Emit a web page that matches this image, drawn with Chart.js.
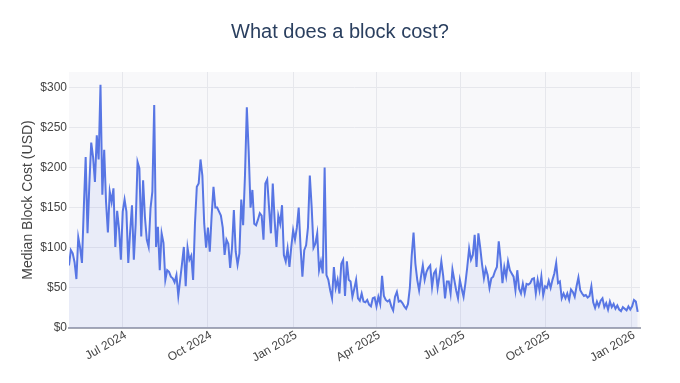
<!DOCTYPE html>
<html>
<head>
<meta charset="utf-8">
<title>What does a block cost?</title>
<script src="https://cdn.jsdelivr.net/npm/chart.js@4.4.1/dist/chart.umd.min.js"></script>
<style>
  html, body { margin: 0; padding: 0; background: #fff; }
  #wrap { width: 680px; height: 383px; position: relative; }
</style>
</head>
<body>
<div id="wrap"><canvas id="chart" width="680" height="383"></canvas></div>
<script>
/* Median block cost, one reading every 2 days. */

const START_DATE = "2024-05-04";
const STEP_DAYS = 2;

// USD, starting at START_DATE, every STEP_DAYS
const blockCost = [
  78, 97, 93, 82, 61, 113, 100, 81, 150, 213,
  118, 180, 231, 213, 182, 240, 210, 303, 166, 222,
  157, 119, 170, 157, 174, 101, 146, 124, 85, 145,
  160, 145, 81, 120, 153, 85, 130, 207, 199, 114,
  184, 138, 110, 101, 149, 170, 278, 101, 126, 72,
  118, 106, 60,
  72, 70, 64, 62, 57, 66, 40, 60, 80, 101,
  52, 100, 85, 90, 60, 130, 176, 180, 210, 190,
  130, 100, 125, 95, 140, 176, 150, 150, 145, 140,
  125, 91, 110, 105, 75, 100, 147, 95, 79, 93,
  160, 128, 190, 275, 220, 150, 172, 130, 128, 135,
  143, 140, 110, 180, 185, 150, 118, 180, 135, 101,
  140, 130, 153, 91, 83, 99, 76, 101, 122, 110,
  125, 150, 101, 64, 97, 103, 125, 190, 151, 100,
  105, 118, 72, 83, 68, 200, 66, 60, 47, 37,
  76, 50, 60, 43, 80, 85, 40, 83, 60, 58,
  39,
  49, 60, 37, 34, 43, 33, 32, 35, 29, 27,
  37, 38, 27, 39, 30, 65, 40, 35, 33, 35,
  27, 22, 39, 45, 33, 34, 31, 27, 24, 30,
  50, 90, 119, 80, 60, 47, 64, 78, 60, 70,
  75, 78, 51, 68, 72, 50, 65, 83, 65, 37,
  58, 58,
  43, 73, 60, 47, 37, 60, 49, 39, 56, 76,
  99, 85, 91, 116, 76, 118, 100, 79, 62, 74,
  66, 50, 62, 64, 71, 76, 108, 85, 56, 76,
  64, 83, 72, 68, 64, 47, 72, 49, 43, 55,
  43, 55, 54, 56, 61, 62, 43, 60, 47, 64,
  41,
  52, 50, 59, 50, 60, 68, 81, 56, 58, 37,
  43, 37, 43, 35, 48, 45, 39, 52, 63, 47,
  43, 40, 41, 38, 40, 52, 32, 25, 33, 27,
  34, 37, 26, 31, 23, 33, 26, 30, 24, 28,
  23, 21, 26, 24, 22, 27, 23, 27, 35, 33,
  20,
];

const xTickDates = ["2024-07-01", "2024-10-01", "2025-01-01", "2025-04-01", "2025-07-01", "2025-10-01", "2026-01-01"];
const xTickLabels = ["Jul 2024", "Oct 2024", "Jan 2025", "Apr 2025", "Jul 2025", "Oct 2025", "Jan 2026"];
const yTicks = [0, 50, 100, 150, 200, 250, 300];
const X_END_DATE = "2026-01-10";
const Y_MAX = 319;

const FONT = '"Liberation Sans", Arial, sans-serif';
const TITLE_COLOR = "#2a3f5f";
const TEXT = "#444";
const GRID = "#e6e7ec";

// ---------- helpers ----------
const dayOf = (iso) => (Date.parse(iso) - Date.parse(START_DATE)) / 86400000;
const points = blockCost.map((v, i) => ({ x: i * STEP_DAYS, y: v }));
const tickDays = xTickDates.map(dayOf);

const plotBg = {
  id: "plotBg",
  beforeDraw(chart) {
    const { ctx, chartArea: a } = chart;
    ctx.save();
    ctx.fillStyle = "#f8f8fa";
    ctx.fillRect(a.left, a.top, a.right - a.left, a.bottom - a.top);
    ctx.restore();
  },
};

// centred over the whole canvas, like the original
const pageTitle = {
  id: "pageTitle",
  afterDraw(chart) {
    const ctx = chart.ctx;
    ctx.save();
    ctx.font = "20px " + FONT;
    ctx.fillStyle = TITLE_COLOR;
    ctx.textAlign = "center";
    ctx.textBaseline = "middle";
    ctx.fillText("What does a block cost?", chart.width / 2, 32);
    ctx.restore();
  },
};

new Chart(document.getElementById("chart"), {
  type: "line",
  data: {
    datasets: [{
      data: points,
      borderColor: "#5876e4",
      borderWidth: 2,
      backgroundColor: "rgba(65,105,225,0.08)",
      fill: "origin",
      pointRadius: 0,
      tension: 0,
    }],
  },
  options: {
    responsive: false,
    animation: false,
    layout: { padding: { top: 72, right: 40, bottom: 0, left: 0 } },
    plugins: {
      legend: { display: false },
      tooltip: { enabled: false },
    },
    scales: {
      x: {
        type: "linear",
        min: 0,
        max: dayOf(X_END_DATE) + 0.5,
        afterFit: (s) => { s.height = 55; },
        afterBuildTicks: (s) => { s.ticks = tickDays.map((v) => ({ value: v })); },
        grid: { color: GRID, drawTicks: false },
        border: { display: true, color: "#a6a9b6", width: 2 },
        ticks: {
          autoSkip: false,
          maxRotation: 30,
          minRotation: 30,
          padding: 0,
          labelOffset: 3,
          color: TEXT,
          font: { family: FONT, size: 12 },
          callback: (v) => xTickLabels[tickDays.indexOf(v)],
        },
      },
      y: {
        min: 0,
        max: Y_MAX,
        afterFit: (s) => { s.width = 69; },
        afterBuildTicks: (s) => { s.ticks = yTicks.map((v) => ({ value: v })); },
        grid: { color: GRID, drawTicks: false },
        border: { display: false },
        ticks: {
          padding: 2,
          color: TEXT,
          font: { family: FONT, size: 12 },
          callback: (v) => "$" + v,
        },
        title: {
          display: true,
          text: "Median Block Cost (USD)",
          color: TEXT,
          font: { family: FONT, size: 14 },
          padding: { top: 20, bottom: 0 },
        },
      },
    },
  },
  plugins: [plotBg, pageTitle],
});
</script>
</body>
</html>
